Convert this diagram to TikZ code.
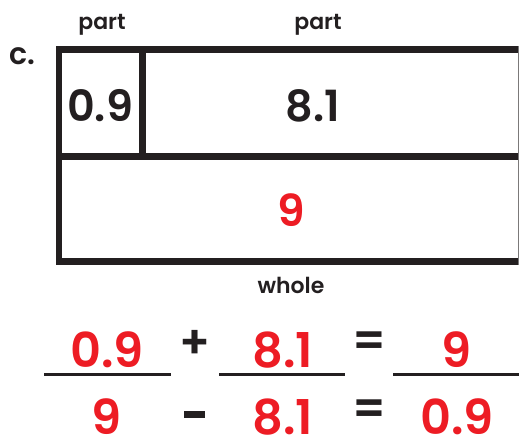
\documentclass[tikz,border=0pt]{standalone}
\usepackage{fontspec}
\setmainfont{Poppins}[BoldFont={Poppins SemiBold}]
\definecolor{ansred}{RGB}{237,28,36}
\definecolor{ink}{RGB}{35,31,32}
\tikzset{
  thick line/.style={line width=6.5pt, ink},
  lbl/.style={font=\fontsize{22}{24}\selectfont\bfseries, text=ink, inner sep=0pt, anchor=base},
  boxnum/.style={font=\fontsize{43}{48}\selectfont\bfseries, text=ink, inner sep=0pt, anchor=base},
  rednum/.style={font=\fontsize{48}{52}\selectfont\bfseries, text=ansred, inner sep=0pt, anchor=base},
  opsym/.style={font=\fontsize{46}{48}\selectfont\bfseries, text=ink, inner sep=0pt},
  blank/.style={line width=3pt, ink}
}
\begin{document}
\begin{tikzpicture}[x=1pt,y=-1pt]
\useasboundingbox (0,0) rectangle (519,438);
% bar model
\coordinate (tl) at (59,49.5);
\coordinate (tr) at (519,49.5);
\coordinate (ml) at (59,156.5);
\coordinate (mr) at (519,156.5);
\coordinate (bl) at (59,261.5);
\coordinate (br) at (519,261.5);
\coordinate (dt) at (142.5,49.5);
\coordinate (db) at (142.5,156.5);
\draw[thick line] (tr) -- (tl) -- (bl) -- (br);
\draw[thick line] (ml) -- (mr);
\draw[thick line] (dt) -- (db);
\draw[line width=1pt, ink!60] (518,46) -- (518,265);
% labels
\node[lbl, font=\fontsize{30}{32}\selectfont\bfseries] (c) at (22,65) {c.};
\node[lbl] (p1) at (102,30) {part};
\node[lbl] (p2) at (318,30) {part};
\node[lbl] (w) at (291,294) {whole};
\node[boxnum] (a) at (100,122) {0.9};
\node[boxnum] (b) at (313,122) {8.1};
\node[rednum, font=\fontsize{44}{48}\selectfont\bfseries] (t) at (291,227) {9};
% equations row 1
\node[rednum] (e1) at (107,367) {0.9};
\node[opsym] (plus) at (194.5,344) {+};
\node[rednum] (e2) at (283,367) {8.1};
\node[opsym] (eq1) at (369,344) {=};
\node[rednum] (e3) at (457,367) {9};
\draw[blank] (44,374) -- (171,374);
\draw[blank] (219,374) -- (345,374);
\draw[blank] (393,374) -- (519,374);
% row 2
\node[rednum] (f1) at (107,434.5) {9};
\node[opsym] (minus) at (194.5,414) {\rule{21pt}{7pt}};
\node[rednum] (f2) at (283,434.5) {8.1};
\node[opsym] (eq2) at (369,412.5) {=};
\node[rednum] (f3) at (457,434.5) {0.9};
\end{tikzpicture}
\end{document}
